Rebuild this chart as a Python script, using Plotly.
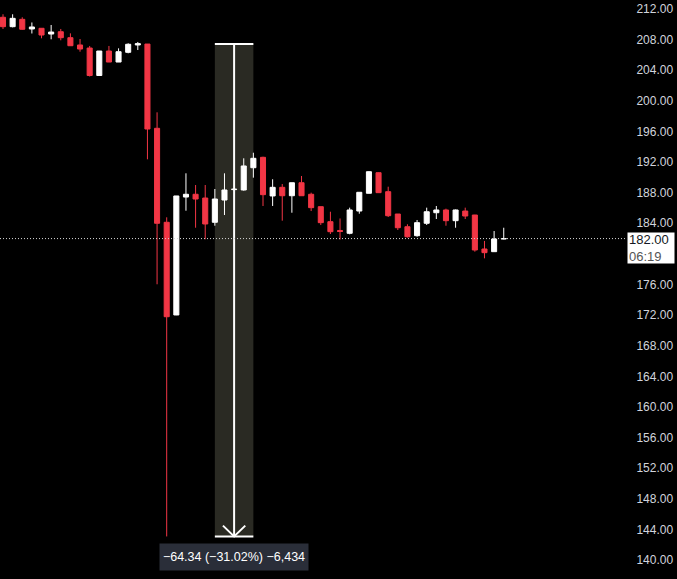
import plotly.graph_objects as go

# ---- data ----
opens = [210.92, 209.69, 210.65, 209.39, 209.48, 208.73, 209.03, 208.25, 207.30, 206.90,
         203.31, 206.51, 205.07, 206.34, 207.30, 207.42, 196.41, 184.13, 172.02, 187.43,
         187.79, 187.30, 184.13, 187.04, 188.40, 188.35, 191.26, 192.62, 187.57, 188.70,
         187.60, 189.30, 187.79, 186.17, 184.21, 183.06, 182.69, 185.60, 187.92, 190.61,
         188.13, 185.21, 183.55, 182.38, 184.00, 185.38, 185.74, 184.34, 185.60, 185.08,
         180.64, 180.29, 181.95]
highs = [211.31, 211.31, 210.92, 210.24, 209.50, 209.91, 209.39, 208.82, 208.08, 207.17,
         206.51, 207.17, 206.86, 207.52, 207.69, 207.42, 198.50, 184.78, 187.57, 190.53,
         189.00, 189.00, 188.48, 190.53, 188.60, 192.49, 193.22, 192.70, 189.75, 189.13,
         189.30, 190.18, 188.00, 186.17, 185.51, 184.63, 186.04, 188.05, 190.80, 190.65,
         188.78, 185.21, 183.87, 184.43, 186.04, 186.26, 185.91, 185.80, 186.04, 185.10,
         181.69, 182.99, 183.42]
lows = [209.39, 209.60, 209.30, 208.80, 208.17, 208.04, 207.91, 207.20, 206.42, 203.18,
        203.25, 205.07, 205.07, 206.21, 206.64, 192.36, 176.03, 143.08, 172.00, 185.64,
        183.42, 181.91, 183.68, 185.08, 188.30, 188.26, 189.96, 186.26, 186.26, 184.34,
        185.38, 187.60, 185.60, 183.78, 182.60, 181.88, 182.56, 185.25, 187.90, 188.00,
        184.82, 183.12, 182.12, 182.24, 183.78, 184.56, 183.68, 183.42, 184.56, 180.29,
        179.42, 180.29, 181.90]
closes = [209.69, 210.78, 209.35, 209.65, 208.60, 208.99, 208.25, 207.20, 206.77, 203.31,
          206.51, 205.07, 206.42, 207.39, 207.47, 196.32, 184.00, 171.79, 187.57, 187.79,
          187.17, 183.91, 187.17, 188.35, 188.45, 191.49, 192.49, 187.74, 188.70, 187.60,
          189.30, 187.60, 186.04, 184.08, 182.90, 182.93, 185.74, 188.05, 190.74, 188.00,
          184.99, 183.42, 182.24, 184.08, 185.51, 185.74, 184.34, 185.74, 184.95, 180.51,
          180.16, 181.95, 182.00]
bar_index = list(range(len(opens)))

tick_values = [212, 208, 204, 200, 196, 192, 188, 184, 176, 172, 168, 164, 160, 156, 152, 148, 144, 140]
tick_labels = [f"{v:.2f}" for v in tick_values]

last_price = 182.00
countdown = "06:19"

measure_start_idx = 22
measure_end_idx = 26
measure_high = 207.42
measure_low = 143.08

# ---- styling ----
RED = "#f23645"
WHITE = "#ffffff"
BG = "#000000"

fig = go.Figure()
fig.add_trace(go.Candlestick(
    x=bar_index, open=opens, high=highs, low=lows, close=closes,
    increasing=dict(line=dict(color=WHITE, width=1), fillcolor=WHITE),
    decreasing=dict(line=dict(color=RED, width=1), fillcolor=RED),
    whiskerwidth=0, hoverinfo="skip", showlegend=False,
))

mid = (measure_start_idx + measure_end_idx) / 2
fig.add_shape(type="rect", xref="x", yref="y", layer="below",
              x0=measure_start_idx, x1=measure_end_idx, y0=measure_low, y1=measure_high,
              fillcolor="#2a2a23", line=dict(width=0))
line_style = dict(color=WHITE, width=2)
fig.add_shape(type="line", xref="x", yref="y", x0=mid, x1=mid, y0=measure_low, y1=measure_high, line=line_style)
fig.add_shape(type="line", xref="x", yref="y", x0=measure_start_idx, x1=measure_end_idx,
              y0=measure_high, y1=measure_high, line=line_style)
fig.add_shape(type="line", xref="x", yref="y", x0=measure_start_idx, x1=measure_end_idx,
              y0=measure_low, y1=measure_low, line=line_style)
arrow_dx = (measure_end_idx - measure_start_idx) * 0.29
arrow_dy = (measure_high - measure_low) * 0.022
fig.add_shape(type="path", xref="x", yref="y",
              path=f"M {mid-arrow_dx},{measure_low+arrow_dy} L {mid},{measure_low} L {mid+arrow_dx},{measure_low+arrow_dy}",
              line=line_style)

# current price dotted line
fig.add_shape(type="line", xref="paper", yref="y", x0=0, x1=1, y0=last_price, y1=last_price,
              line=dict(color="#d8d8d8", width=1, dash="1px,2px"))

change = measure_low - measure_high
pct = change / measure_high * 100
ticks_cnt = round(change / 0.01)
M = "\u2212"
label = f"{M}{abs(change):.2f} ({M}{abs(pct):.2f}%) {M}{abs(ticks_cnt):,}"
fig.add_annotation(x=mid, xref="x", y=measure_low, yref="y", yshift=-21,
                   text=label, showarrow=False, bgcolor="#2a2e39",
                   font=dict(color="#ffffff", size=12.5, family="Liberation Sans"),
                   width=146, height=24, xanchor="center", yanchor="middle")

# price tag
fig.add_annotation(x=1, xref="paper", y=last_price, yref="y", yanchor="top", xanchor="left",
                   yshift=7, showarrow=False, bgcolor="#ffffff", align="left",
                   text=f"{last_price:.2f}<br><span style='color:#555555'>{countdown}</span>",
                   font=dict(color="#131722", size=13, family="Liberation Sans"),
                   width=44, height=28, borderpad=1)

fig.update_layout(
    width=677, height=579,
    margin=dict(l=0, r=50, t=0, b=0),
    paper_bgcolor=BG, plot_bgcolor=BG,
    xaxis=dict(range=[-0.3115, 64.8], visible=False, rangeslider=dict(visible=False), fixedrange=True),
    yaxis=dict(range=[137.52, 213.176], side="right", showgrid=False, zeroline=False,
               tickvals=tick_values, ticktext=tick_labels, ticks="outside", ticklen=6,
               tickcolor="rgba(0,0,0,0)", showline=False,
               tickfont=dict(color="#d1d4dc", size=12, family="Liberation Sans")),
    boxgap=0.25,
)

fig.write_html(
    "out.html",
    config={"displayModeBar": False},
    post_script="document.body.style.margin='0';document.body.style.background='#000';",
)
